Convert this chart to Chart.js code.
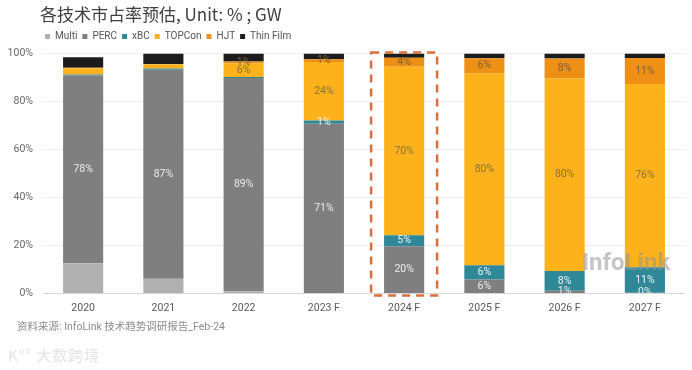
<!DOCTYPE html>
<html>
<head>
<meta charset="utf-8">
<script src="https://cdn.jsdelivr.net/npm/chart.js@4.4.1/dist/chart.umd.min.js"></script>
<style>
  html, body { margin: 0; padding: 0; background: #fff; }
  #wrap { position: relative; width: 692px; height: 370px; }
  #source {
    position: absolute; left: 17px; top: 318px; line-height: 14px;
    font: 10.5px Roboto, "Noto Sans CJK SC", sans-serif; color: #8c8c8c;
  }
  #logo {
    position: absolute; left: 8px; top: 344px;
    font: 15px "Noto Sans CJK SC", sans-serif; color: #e4e4e4; letter-spacing: 1px;
  }
</style>
</head>
<body>
<div id="wrap">
  <canvas id="chart" width="692" height="370"></canvas>
  <div id="source">资料来源: InfoLink 技术趋势调研报告_Feb-24</div>
  <div id="logo">K°° 大数跨境</div>
</div>
<script>
(function () {
  "use strict";

  // ── Data (share of each cell technology, %) ─────────────────────
  var years = ["2020", "2021", "2022", "2023 F", "2024 F", "2025 F", "2026 F", "2027 F"];
  var multi    = [12.6, 6.1, 0.9, 0, 0, 0, 0, 0];
  var perc     = [78.2, 87.1, 88.8, 70.7, 19.6, 5.8, 1.1, 0.3];
  var xbc      = [0.4, 0.5, 0.5, 1.3, 4.6, 5.9, 8.2, 10.6];
  var topcon   = [2.5, 1.7, 5.6, 24.4, 70.2, 80.0, 80.2, 76.4];
  var hjt      = [0.3, 0.2, 0.8, 1.2, 3.8, 6.3, 8.4, 10.8];
  var thinFilm = [4.4, 4.4, 3.4, 2.4, 1.8, 2.0, 2.1, 1.9];
  var yTicks   = [0, 20, 40, 60, 80, 100];

  var TITLE = "各技术市占率预估, Unit: % ; GW";
  var FONT = "Roboto, 'Noto Sans CJK SC', sans-serif";

  // first category index whose segment gets a value label (99 = never)
  var series = [
    { label: "Multi",     data: multi,    color: "#b0b0b0", labelFrom: 99, text: "#fff" },
    { label: "PERC",      data: perc,     color: "#7f7f7f", labelFrom: 0,  text: "#ececec" },
    { label: "xBC",       data: xbc,      color: "#2e8898", labelFrom: 3,  text: "#f2f2f2" },
    { label: "TOPCon",    data: topcon,   color: "#fdb21b", labelFrom: 2,  text: "#86703c" },
    { label: "HJT",       data: hjt,      color: "#ee8f16", labelFrom: 2,  text: "#7e6238" },
    { label: "Thin Film", data: thinFilm, color: "#1c1c1c", labelFrom: 99, text: "#fff" },
  ];

  // ── Move title / legend to their offsets ───────────────────────
  var LEGEND_LIFT = 2;
  var headerShift = {
    id: "headerShift",
    afterLayout: function (chart) {
      if (chart.titleBlock) chart.titleBlock.left = 40;
      var lg = chart.legend;
      if (lg) {
        lg.left = 45 - lg.options.labels.padding;
        lg.top -= LEGEND_LIFT;
        lg.bottom -= LEGEND_LIFT;
      }
    },
  };

  // ── Segment value labels, clipped to the plot area ─────────────
  var segmentLabels = {
    id: "segmentLabels",
    afterDatasetsDraw: function (chart) {
      var ctx = chart.ctx, a = chart.chartArea;

      // InfoLink watermark
      ctx.save();
      ctx.font = "bold 24px Roboto, 'DejaVu Sans', sans-serif";
      ctx.fillStyle = "rgba(150,150,150,0.55)";
      ctx.textAlign = "left";
      ctx.textBaseline = "middle";
      ctx.fillText("InfoLink", 582, 264, 95);
      ctx.restore();

      ctx.save();
      ctx.beginPath();
      ctx.rect(a.left, a.top, a.right - a.left, a.bottom - a.top);
      ctx.clip();
      ctx.font = "10.5px " + FONT;
      ctx.textAlign = "center";
      ctx.textBaseline = "middle";
      series.forEach(function (s, di) {
        chart.getDatasetMeta(di).data.forEach(function (bar, i) {
          if (i < s.labelFrom) return;
          ctx.fillStyle = s.text;
          ctx.fillText(Math.round(s.data[i]) + "%", bar.x, (bar.y + bar.base) / 2);
        });
      });
      ctx.restore();
    },
  };

  // ── Dashed highlight around 2024 F ─────────────────────────────
  var highlight = {
    id: "highlight",
    afterDraw: function (chart) {
      var ctx = chart.ctx, a = chart.chartArea;
      var x = chart.scales.x.getPixelForValue(4);
      ctx.save();
      ctx.strokeStyle = "#d9703a";
      ctx.lineWidth = 2.5;
      ctx.setLineDash([8, 6]);
      ctx.strokeRect(x - 33, a.top - 1, 66, a.bottom - a.top + 3);
      ctx.restore();
    },
  };

  new Chart(document.getElementById("chart"), {
    type: "bar",
    data: {
      labels: years,
      datasets: series.map(function (s) {
        return {
          label: s.label,
          data: s.data,
          backgroundColor: s.color,
          borderWidth: 0,
          barPercentage: 0.5,
          categoryPercentage: 1.0,
        };
      }),
    },
    options: {
      responsive: false,
      animation: false,
      devicePixelRatio: 1,
      layout: { padding: { left: 0, right: 7, top: 0, bottom: 46 } },
      plugins: {
        title: {
          display: true,
          text: TITLE,
          align: "start",
          color: "#404040",
          font: { family: "'Noto Sans CJK SC', Roboto, sans-serif", size: 17, weight: "normal" },
          padding: { top: 4, bottom: 4 },
        },
        legend: {
          align: "start",
          labels: {
            boxWidth: 5,
            boxHeight: 5,
            padding: 5,
            color: "#555",
            font: { family: FONT, size: 10 },
          },
        },
        tooltip: { enabled: false },
      },
      scales: {
        x: {
          stacked: true,
          grid: { display: false, drawTicks: false },
          border: { display: false },
          ticks: { color: "#595959", font: { family: FONT, size: 10.5 }, padding: 9, maxRotation: 0 },
        },
        y: {
          stacked: true,
          min: 0,
          max: 100,
          afterFit: function (scale) { scale.width = 43; },
          afterBuildTicks: function (scale) {
            scale.ticks = yTicks.map(function (v) { return { value: v }; });
          },
          border: { display: false },
          grid: {
            drawTicks: false,
            color: function (c) { return c.tick && c.tick.value === 0 ? "#d6d6d6" : "#efefef"; },
          },
          ticks: {
            color: "#666",
            font: { family: FONT, size: 10.5 },
            padding: 10,
            callback: function (v) { return v + "%"; },
          },
        },
      },
    },
    plugins: [headerShift, segmentLabels, highlight],
  });
})();
</script>
</body>
</html>
